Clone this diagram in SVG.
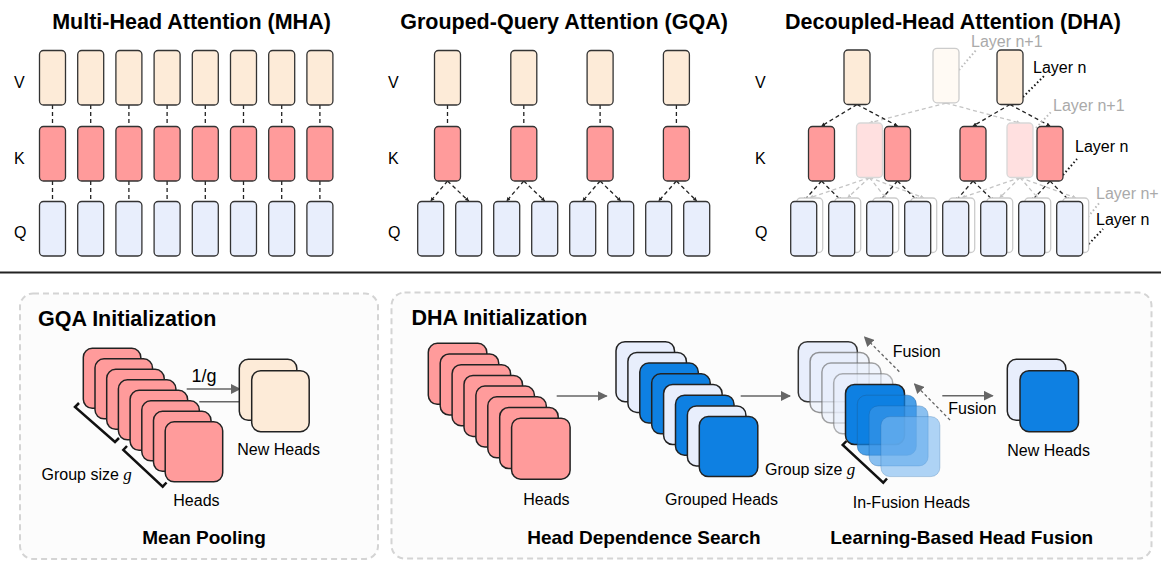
<svg xmlns="http://www.w3.org/2000/svg" width="1161" height="561" viewBox="0 0 1161 561">
<style>
text{font-family:"Liberation Sans",Arial,sans-serif;fill:#000}
.t{font-size:21.5px;font-weight:bold}
.st{font-size:19px;font-weight:bold}
.lb{font-size:16px}
.gr{fill:#aaa}
.v{fill:#fdebd8;stroke:#333;stroke-width:1.3}
.k{fill:#ff9b9b;stroke:#333;stroke-width:1.3}
.q{fill:#e8eefc;stroke:#333;stroke-width:1.3}
.fv{fill:#fffaf4;stroke:#ccc;stroke-width:1.3}
.fk{fill:#ffe0e0;stroke:#d8d8d8;stroke-width:1.3}
.fq{fill:#fff;stroke:#ccc;stroke-width:1.3}
.d{stroke:#222;stroke-width:1.3;stroke-dasharray:4 3;fill:none}
.dg{stroke:#c4c4c4;stroke-width:1.3;stroke-dasharray:4 3;fill:none}
.dot{stroke:#111;stroke-width:2;stroke-dasharray:1.5 2.5;fill:none}
.dotg{stroke:#bbb;stroke-width:2;stroke-dasharray:1.5 2.5;fill:none}
.sq{stroke:#222;stroke-width:1.5}
.red{fill:#ff9b9b}
.cr{fill:#fdebd8}
.lt{fill:#e8eefc}
.bl{fill:#0e80e2}
.br{stroke:#111;stroke-width:2.5;fill:none}
.ar{stroke:#666;stroke-width:1.5;fill:none}
.fa{stroke:#666;stroke-width:1.3;stroke-dasharray:3 2.5;fill:none}
.panel{fill:#fcfcfc;stroke:#d4d4d4;stroke-width:2;stroke-dasharray:6 4}
</style>
<defs>
<marker id="ah" viewBox="0 0 10 10" refX="9" refY="5" markerWidth="10" markerHeight="10" markerUnits="userSpaceOnUse" orient="auto"><path d="M0,0 L10,5 L0,10 z" fill="#666"/></marker>
<marker id="sm" viewBox="0 0 10 10" refX="9" refY="5" markerWidth="4" markerHeight="4" markerUnits="userSpaceOnUse" orient="auto"><path d="M0,0 L10,5 L0,10 z" fill="#222"/></marker>
<marker id="smg" viewBox="0 0 10 10" refX="9" refY="5" markerWidth="4" markerHeight="4" markerUnits="userSpaceOnUse" orient="auto"><path d="M0,0 L10,5 L0,10 z" fill="#c4c4c4"/></marker>
</defs>
<rect width="1161" height="561" fill="#fff"/>

<!-- Titles -->
<text class="t" x="191.5" y="28.5" text-anchor="middle">Multi-Head Attention (MHA)</text>
<text class="t" x="564" y="28.5" text-anchor="middle">Grouped-Query Attention (GQA)</text>
<text class="t" x="953" y="28.5" text-anchor="middle">Decoupled-Head Attention (DHA)</text>

<!-- Row labels -->
<g id="row-labels" class="lb">
<text x="14" y="88">V</text><text x="14" y="164">K</text><text x="14" y="238">Q</text>
<text x="388" y="88">V</text><text x="388" y="164">K</text><text x="388" y="238">Q</text>
<text x="755" y="88">V</text><text x="755" y="164">K</text><text x="755" y="238">Q</text>
</g>

<!-- Connectors -->
<g id="connectors">
<!-- MHA -->
<path class="d" d="M52.5,105V126.5M52.5,181V201.5M90.7,105V126.5M90.7,181V201.5M128.9,105V126.5M128.9,181V201.5M167.1,105V126.5M167.1,181V201.5M205.3,105V126.5M205.3,181V201.5M243.5,105V126.5M243.5,181V201.5M281.7,105V126.5M281.7,181V201.5M319.9,105V126.5M319.9,181V201.5"/>
<!-- GQA -->
<path class="d" d="M447.5,105V126.5M523.8,105V126.5M600.1,105V126.5M676.4,105V126.5"/>
<g class="d" marker-end="url(#sm)">
<path d="M447.5,181L430.7,201"/><path d="M447.5,181L468.7,201"/>
<path d="M523.8,181L506.7,201"/><path d="M523.8,181L544.7,201"/>
<path d="M600.1,181L582.7,201"/><path d="M600.1,181L620.7,201"/>
<path d="M676.4,181L658.7,201"/><path d="M676.4,181L696.7,201"/>
</g>
<!-- DHA gray (layer n+1) -->
<g class="dg" marker-end="url(#smg)">
<path d="M946,103L869.4,123"/><path d="M946,103L1020,123"/>
<path d="M869.4,177.5L809.7,197.8"/><path d="M869.4,177.5L847.7,197.8"/><path d="M869.4,177.5L885.7,197.8"/><path d="M869.4,177.5L923.7,197.8"/>
<path d="M1020,177.5L961.7,197.8"/><path d="M1020,177.5L999.7,197.8"/><path d="M1020,177.5L1037.7,197.8"/><path d="M1020,177.5L1075.7,197.8"/>
</g>
<!-- DHA black (layer n) -->
<g class="d" marker-end="url(#sm)">
<path d="M857,104.5L821.5,126"/><path d="M857,104.5L897.5,126"/>
<path d="M1010,104.5L973,126"/><path d="M1010,104.5L1050,126"/>
<path d="M821.5,181L803.7,201"/><path d="M821.5,181L841.7,201"/>
<path d="M897.5,181L879.7,201"/><path d="M897.5,181L917.7,201"/>
<path d="M973,181L955.7,201"/><path d="M973,181L993.7,201"/>
<path d="M1050,181L1031.7,201"/><path d="M1050,181L1069.7,201"/>
</g>
<!-- layer label pointers -->
<path class="dotg" d="M959,70L977,49"/>
<path class="dot" d="M1023,97L1044,76"/>
<path class="dotg" d="M1036,128L1052,111"/>
<path class="dot" d="M1063,175L1077,159"/>
<path class="dotg" d="M1088,217L1100,202"/>
<path class="dot" d="M1086,247L1103,229"/>
</g>

<!-- MHA nodes -->
<g id="mha">
<rect class="v" x="39.5" y="50.5" width="26" height="54.5" rx="4"/><rect class="v" x="77.7" y="50.5" width="26" height="54.5" rx="4"/><rect class="v" x="115.9" y="50.5" width="26" height="54.5" rx="4"/><rect class="v" x="154.1" y="50.5" width="26" height="54.5" rx="4"/><rect class="v" x="192.3" y="50.5" width="26" height="54.5" rx="4"/><rect class="v" x="230.5" y="50.5" width="26" height="54.5" rx="4"/><rect class="v" x="268.7" y="50.5" width="26" height="54.5" rx="4"/><rect class="v" x="306.9" y="50.5" width="26" height="54.5" rx="4"/>
<rect class="k" x="39.5" y="126.5" width="26" height="54.5" rx="4"/><rect class="k" x="77.7" y="126.5" width="26" height="54.5" rx="4"/><rect class="k" x="115.9" y="126.5" width="26" height="54.5" rx="4"/><rect class="k" x="154.1" y="126.5" width="26" height="54.5" rx="4"/><rect class="k" x="192.3" y="126.5" width="26" height="54.5" rx="4"/><rect class="k" x="230.5" y="126.5" width="26" height="54.5" rx="4"/><rect class="k" x="268.7" y="126.5" width="26" height="54.5" rx="4"/><rect class="k" x="306.9" y="126.5" width="26" height="54.5" rx="4"/>
<rect class="q" x="39.5" y="201.5" width="26" height="54.5" rx="4"/><rect class="q" x="77.7" y="201.5" width="26" height="54.5" rx="4"/><rect class="q" x="115.9" y="201.5" width="26" height="54.5" rx="4"/><rect class="q" x="154.1" y="201.5" width="26" height="54.5" rx="4"/><rect class="q" x="192.3" y="201.5" width="26" height="54.5" rx="4"/><rect class="q" x="230.5" y="201.5" width="26" height="54.5" rx="4"/><rect class="q" x="268.7" y="201.5" width="26" height="54.5" rx="4"/><rect class="q" x="306.9" y="201.5" width="26" height="54.5" rx="4"/>
</g>

<!-- GQA nodes -->
<g id="gqa">
<rect class="v" x="434.5" y="50.5" width="26" height="54.5" rx="4"/><rect class="v" x="510.8" y="50.5" width="26" height="54.5" rx="4"/><rect class="v" x="587.1" y="50.5" width="26" height="54.5" rx="4"/><rect class="v" x="663.4" y="50.5" width="26" height="54.5" rx="4"/>
<rect class="k" x="434.5" y="126.5" width="26" height="54.5" rx="4"/><rect class="k" x="510.8" y="126.5" width="26" height="54.5" rx="4"/><rect class="k" x="587.1" y="126.5" width="26" height="54.5" rx="4"/><rect class="k" x="663.4" y="126.5" width="26" height="54.5" rx="4"/>
<rect class="q" x="417.7" y="201.5" width="26" height="54.5" rx="4"/><rect class="q" x="455.7" y="201.5" width="26" height="54.5" rx="4"/><rect class="q" x="493.7" y="201.5" width="26" height="54.5" rx="4"/><rect class="q" x="531.7" y="201.5" width="26" height="54.5" rx="4"/><rect class="q" x="569.7" y="201.5" width="26" height="54.5" rx="4"/><rect class="q" x="607.7" y="201.5" width="26" height="54.5" rx="4"/><rect class="q" x="645.7" y="201.5" width="26" height="54.5" rx="4"/><rect class="q" x="683.7" y="201.5" width="26" height="54.5" rx="4"/>
</g>

<!-- DHA nodes -->
<g id="dha">
<rect class="fv" x="933" y="48.3" width="26" height="54.5" rx="4"/>
<rect class="fk" x="856.5" y="123" width="26" height="54.5" rx="4"/>
<rect class="fk" x="1007" y="123" width="26" height="54.5" rx="4"/>
<rect class="fq" x="796.7" y="198" width="26" height="54.5" rx="4"/><rect class="fq" x="834.7" y="198" width="26" height="54.5" rx="4"/><rect class="fq" x="872.7" y="198" width="26" height="54.5" rx="4"/><rect class="fq" x="910.7" y="198" width="26" height="54.5" rx="4"/><rect class="fq" x="948.7" y="198" width="26" height="54.5" rx="4"/><rect class="fq" x="986.7" y="198" width="26" height="54.5" rx="4"/><rect class="fq" x="1024.7" y="198" width="26" height="54.5" rx="4"/><rect class="fq" x="1062.7" y="198" width="26" height="54.5" rx="4"/>
<rect class="v" x="844" y="50" width="26" height="54.5" rx="4"/>
<rect class="v" x="997" y="50" width="26" height="54.5" rx="4"/>
<rect class="k" x="808.5" y="126.5" width="26" height="54.5" rx="4"/><rect class="k" x="884.5" y="126.5" width="26" height="54.5" rx="4"/><rect class="k" x="960" y="126.5" width="26" height="54.5" rx="4"/><rect class="k" x="1037" y="126.5" width="26" height="54.5" rx="4"/>
<rect class="q" x="790.7" y="201.5" width="26" height="54.5" rx="4"/><rect class="q" x="828.7" y="201.5" width="26" height="54.5" rx="4"/><rect class="q" x="866.7" y="201.5" width="26" height="54.5" rx="4"/><rect class="q" x="904.7" y="201.5" width="26" height="54.5" rx="4"/><rect class="q" x="942.7" y="201.5" width="26" height="54.5" rx="4"/><rect class="q" x="980.7" y="201.5" width="26" height="54.5" rx="4"/><rect class="q" x="1018.7" y="201.5" width="26" height="54.5" rx="4"/><rect class="q" x="1056.7" y="201.5" width="26" height="54.5" rx="4"/>
<text class="lb gr" x="971" y="47">Layer n+1</text>
<text class="lb" x="1033" y="73">Layer n</text>
<text class="lb gr" x="1053" y="111">Layer n+1</text>
<text class="lb" x="1075" y="152">Layer n</text>
<text class="lb gr" x="1096" y="199">Layer n+</text>
<text class="lb" x="1096" y="225">Layer n</text>
</g>

<!-- divider -->
<line x1="0" y1="272.5" x2="1161" y2="272.5" stroke="#222" stroke-width="2"/>

<!-- GQA Initialization panel -->
<g id="gqa-init">
<rect class="panel" x="20" y="293.5" width="358" height="265.5" rx="13"/>
<text class="t" x="38" y="326">GQA Initialization</text>
<g class="sq red">
<rect x="83.3" y="348.3" width="57.5" height="60" rx="9"/>
<rect x="95" y="358.8" width="57.5" height="60" rx="9"/>
<rect x="106.7" y="369.3" width="57.5" height="60" rx="9"/>
<rect x="118.4" y="379.8" width="57.5" height="60" rx="9"/>
<rect x="130.1" y="390.3" width="57.5" height="60" rx="9"/>
<rect x="141.8" y="400.8" width="57.5" height="60" rx="9"/>
<rect x="153.5" y="411.3" width="57.5" height="60" rx="9"/>
<rect x="165.2" y="421.8" width="57.5" height="60" rx="9"/>
</g>
<path class="br" d="M79,403 L75,407 L115,442 L119,438"/>
<path class="br" d="M127,446 L123.3,450 L162.7,486.7 L166.5,482.5"/>
<text class="lb" x="41.5" y="479.5">Group size <tspan font-family="Liberation Serif,serif" font-style="italic" font-size="17">g</tspan></text>
<text class="lb" x="173.3" y="505.5">Heads</text>
<text x="191.5" y="381.5" font-family="Liberation Serif,serif" font-size="18">1/g</text>
<path class="ar" d="M186.7,389H240" marker-end="url(#ah)"/>
<path class="ar" d="M199.3,401.7H251.7" marker-end="url(#ah)"/>
<g class="sq cr">
<rect x="239.3" y="359.3" width="57.5" height="61" rx="9"/>
<rect x="251.7" y="370.7" width="57.5" height="61" rx="9"/>
</g>
<text class="lb" x="237.3" y="455">New Heads</text>
<text class="st" x="204" y="543.5" text-anchor="middle">Mean Pooling</text>
</g>

<!-- DHA Initialization panel -->
<g id="dha-init">
<rect class="panel" x="391.5" y="292.5" width="760" height="266" rx="13"/>
<text class="t" x="411.5" y="325">DHA Initialization</text>
<g class="sq red">
<rect x="428.3" y="343.3" width="58.5" height="61" rx="9"/>
<rect x="440.2" y="354" width="58.5" height="61" rx="9"/>
<rect x="452.1" y="364.7" width="58.5" height="61" rx="9"/>
<rect x="464" y="375.4" width="58.5" height="61" rx="9"/>
<rect x="475.9" y="386.1" width="58.5" height="61" rx="9"/>
<rect x="487.8" y="396.8" width="58.5" height="61" rx="9"/>
<rect x="499.7" y="407.5" width="58.5" height="61" rx="9"/>
<rect x="511.6" y="418.2" width="58.5" height="61" rx="9"/>
</g>
<text class="lb" x="523.3" y="505">Heads</text>
<path class="ar" d="M556.7,396H606.7" marker-end="url(#ah)"/>
<g class="sq">
<rect class="lt" x="616" y="341.7" width="58.5" height="60" rx="9"/>
<rect class="lt" x="627.9" y="352.4" width="58.5" height="60" rx="9"/>
<rect class="bl" x="639.8" y="363.1" width="58.5" height="60" rx="9"/>
<rect class="bl" x="651.7" y="373.8" width="58.5" height="60" rx="9"/>
<rect class="lt" x="663.6" y="384.5" width="58.5" height="60" rx="9"/>
<rect class="bl" x="675.5" y="395.2" width="58.5" height="60" rx="9"/>
<rect class="lt" x="687.4" y="405.9" width="58.5" height="60" rx="9"/>
<rect class="bl" x="699.3" y="416.6" width="58.5" height="60" rx="9"/>
</g>
<text class="lb" x="665" y="505">Grouped Heads</text>
<text class="st" x="644" y="543.5" text-anchor="middle">Head Dependence Search</text>
<path class="ar" d="M740.7,396H790" marker-end="url(#ah)"/>
<!-- in-fusion stack -->
<rect x="798.3" y="341.7" width="59" height="60" rx="9" fill="#e8eefc" stroke="#333" stroke-width="1.5"/>
<rect x="810.1" y="352.4" width="59" height="60" rx="9" fill="#e8eefc" fill-opacity="0.6" stroke="#666" stroke-opacity="0.7" stroke-width="1.5"/>
<rect x="821.9" y="363.1" width="59" height="60" rx="9" fill="#e8eefc" fill-opacity="0.6" stroke="#666" stroke-opacity="0.6" stroke-width="1.5"/>
<rect x="833.7" y="373.8" width="59" height="60" rx="9" fill="#e8eefc" fill-opacity="0.6" stroke="#666" stroke-opacity="0.5" stroke-width="1.5"/>
<rect x="845.5" y="384.5" width="59" height="60" rx="9" fill="#0e80e2" stroke="#222" stroke-width="1.5"/>
<rect x="857.3" y="395.2" width="59" height="60" rx="9" fill="#0e80e2" fill-opacity="0.75" stroke="#1a5fa0" stroke-opacity="0.5" stroke-width="1"/>
<rect x="869.1" y="405.9" width="59" height="60" rx="9" fill="#3d98e8" fill-opacity="0.6" stroke="#1a5fa0" stroke-opacity="0.35" stroke-width="1"/>
<rect x="880.9" y="416.6" width="59" height="60" rx="9" fill="#7ab8f0" fill-opacity="0.6" stroke="#1a5fa0" stroke-opacity="0.25" stroke-width="1"/>
<path class="br" d="M846.5,441 L842.7,445 L883.3,482.7 L887,478.5"/>
<text class="lb" x="765" y="475">Group size <tspan font-family="Liberation Serif,serif" font-style="italic" font-size="17">g</tspan></text>
<text class="lb" x="852.7" y="507.5">In-Fusion Heads</text>
<path class="fa" d="M899.3,371.7L864.5,337" marker-end="url(#ah)"/>
<text class="lb" x="892.7" y="356.5">Fusion</text>
<path class="fa" d="M950,420L914.5,384" marker-end="url(#ah)"/>
<text class="lb" x="948.3" y="414">Fusion</text>
<path class="ar" d="M942.3,395.7H992.7" marker-end="url(#ah)"/>
<g class="sq">
<rect class="lt" x="1007.3" y="359.3" width="58.5" height="61" rx="9"/>
<rect class="bl" x="1020" y="370.7" width="58.5" height="61" rx="9"/>
</g>
<text class="lb" x="1007.3" y="456">New Heads</text>
<text class="st" x="961.7" y="543.5" text-anchor="middle">Learning-Based Head Fusion</text>
</g>
</svg>
